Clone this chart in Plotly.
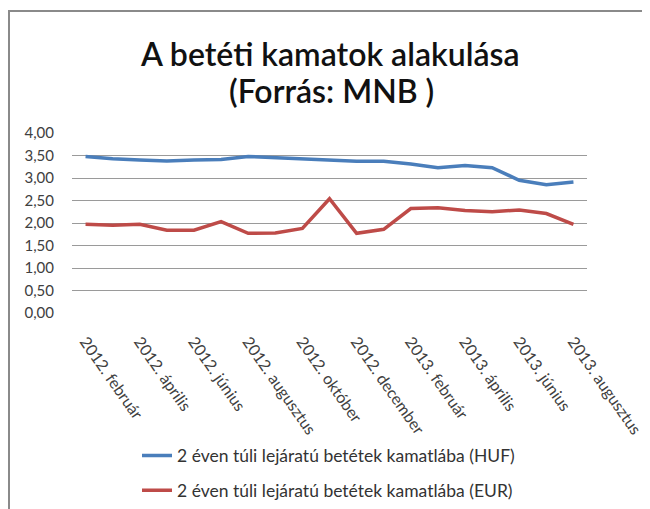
import plotly.graph_objects as go

categories = ["2012. február", "2012. március", "2012. április", "2012. május", "2012. június",
              "2012. július", "2012. augusztus", "2012. szeptember", "2012. október", "2012. november",
              "2012. december", "2013. január", "2013. február", "2013. március", "2013. április",
              "2013. május", "2013. június", "2013. július", "2013. augusztus"]
huf = [3.48, 3.43, 3.40, 3.38, 3.40, 3.41, 3.48, 3.45, 3.42, 3.40,
       3.37, 3.37, 3.31, 3.23, 3.28, 3.23, 2.95, 2.85, 2.91]
eur = [1.97, 1.95, 1.97, 1.84, 1.84, 2.03, 1.77, 1.78, 1.88, 2.54,
       1.77, 1.86, 2.32, 2.34, 2.28, 2.25, 2.29, 2.21, 1.97]
tick_labels = categories[::2]
y_ticks = [0, 0.5, 1.0, 1.5, 2.0, 2.5, 3.0, 3.5, 4.0]
series_names = ["2 éven túli lejáratú betétek kamatlába (HUF)",
                "2 éven túli lejáratú betétek kamatlába (EUR)"]
title_lines = ["A betéti kamatok alakulása", "(Forrás: MNB )"]

# the page body has an 8px default margin; size the figure so it fits the window
OFF = 8
W, H = 650 - OFF, 509 - OFF
L, T = 72 - OFF, 133 - OFF
R = W - (587 - OFF)
B = H - (313 - OFF)
PW, PH = W - L - R, H - T - B


def px(x_page):
    return (x_page - OFF - L) / PW


def py(y_page):
    return (H - B - (y_page - OFF)) / PH


FONT = "Lato, Carlito, 'Open Sans', sans-serif"

fig = go.Figure()
fig.add_trace(go.Scatter(x=categories, y=huf, mode="lines", name=series_names[0],
                         line=dict(color="#4A7EBB", width=3.5), legendgroup="a"))
fig.add_trace(go.Scatter(x=categories, y=eur, mode="lines", name=series_names[1],
                         line=dict(color="#BE4B48", width=3.5), legendgroup="b"))

title_font = dict(family=FONT, size=32, color="#111111", weight=600)

fig.update_layout(
    width=W, height=H,
    margin=dict(l=L, r=R, t=T, b=B, autoexpand=False),
    paper_bgcolor="white", plot_bgcolor="white",
    separators=", ",
    font=dict(family=FONT, color="#404040", size=15),
    showlegend=True,
    legend=dict(x=px(137), xanchor="left", y=1 - (437.5 - OFF) / H, yanchor="top", yref="container",
                font=dict(size=17.5, color="#333333"), tracegroupgap=9,
                bgcolor="rgba(0,0,0,0)"),
    xaxis=dict(type="category", tickmode="array", tickvals=tick_labels, ticktext=tick_labels,
               tickangle=55, showgrid=False, showline=False, zeroline=False, automargin=False,
               ticks="outside", ticklen=12, tickcolor="rgba(0,0,0,0)",
               tickfont=dict(size=16, color="#404040"), range=[-0.5, len(categories) - 0.5]),
    yaxis=dict(range=[0, 4.0], tickvals=y_ticks, tickformat=".2f", automargin=False,
               showgrid=True, gridcolor="#9a9a9a", gridwidth=1, zeroline=False,
               showline=False, ticks="", ticklabelstandoff=17,
               tickfont=dict(size=15, color="#404040")),
    annotations=[
        dict(text=title_lines[0], xref="paper", yref="paper", x=px(330), y=py(53),
             xanchor="center", yanchor="middle", showarrow=False, font=title_font),
        dict(text=title_lines[1], xref="paper", yref="paper", x=px(331), y=py(91),
             xanchor="center", yanchor="middle", showarrow=False, font=title_font),
    ],
    shapes=[
        dict(type="line", xref="paper", yref="paper", x0=px(8), x1=px(644), y0=py(11), y1=py(11),
             line=dict(color="#8a8a8a", width=2)),
        dict(type="line", xref="paper", yref="paper", x0=px(9), x1=px(9), y0=py(11), y1=py(520),
             line=dict(color="#8a8a8a", width=2)),
        dict(type="line", xref="paper", yref="paper", x0=px(644), x1=px(644), y0=py(11), y1=py(520),
             line=dict(color="#d8d8d8", width=1)),
    ],
)

fig.write_html("out.html")
